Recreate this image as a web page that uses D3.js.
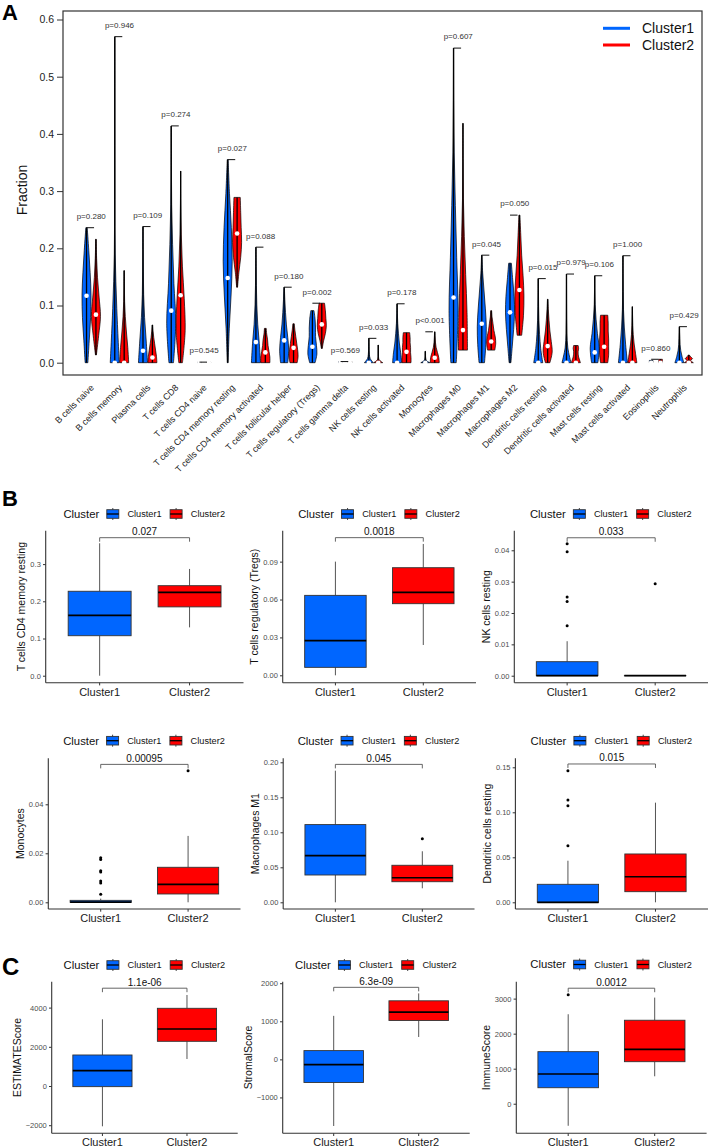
<!DOCTYPE html>
<html><head><meta charset="utf-8">
<script src="https://cdn.jsdelivr.net/npm/d3@7"></script>
<style>
body{margin:0;background:#fff}
svg{display:block}
text{font-family:"Liberation Sans",Arial,Helvetica,sans-serif}
</style>
</head><body>
<svg id="c" width="708" height="1147"></svg>
<script>
// ---------------- Panel A data ----------------
const cellTypes = ["B cells naive","B cells memory","Plasma cells","T cells CD8","T cells CD4 naive","T cells CD4 memory resting","T cells CD4 memory activated","T cells follicular helper","T cells regulatory (Tregs)","T cells gamma delta","NK cells resting","NK cells activated","Monocytes","Macrophages M0","Macrophages M1","Macrophages M2","Dendritic cells resting","Dendritic cells activated","Mast cells resting","Mast cells activated","Eosinophils","Neutrophils"];
const pLabelsA = ["p=0.280","p=0.946","p=0.109","p=0.274","p=0.545","p=0.027","p=0.088","p=0.180","p=0.002","p=0.569","p=0.033","p=0.178","p<0.001","p=0.607","p=0.045","p=0.050","p=0.015","p=0.979","p=0.106","p=1.000","p=0.860","p=0.429"];
const blueMin = [0,0,0,0,0,0,0,0,0,0,0,0,0,0,0,0,0,0,0,0,0,0];
const blueMax = [0.236,0.570,0.238,0.414,0.001,0.355,0.202,0.132,0.091,0.002,0.0426,0.103,0.020,0.550,0.188,0.174,0.147,0.155,0.152,0.187,0.004,0.063];
const blueMed = [0.117,0,0.021,0.091,0,0.148,0.036,0.039,0.028,0,0,0,0,0.114,0.068,0.088,0,0,0.018,0,0,0];
const redMin  = [0.0135,0,0,0,0,0.132,0,0,0.025,0,0,0,0,0.022,0.022,0.048,0,0,0,0,0,0];
const redMax  = [0.216,0.161,0.066,0.335,0.001,0.289,0.060,0.068,0.104,0.002,0.031,0.0525,0.054,0.4185,0.091,0.258,0.111,0.030,0.083,0.098,0.006,0.0135];
const redMed  = [0.084,0,0.009,0.118,0,0.226,0.018,0.026,0.067,0,0,0.019,0.0087,0.057,0.037,0.127,0.029,0,0.028,0,0,0];
// relative violin widths, from min (first) to max (last)
const blueShape = [
 [0.3,0.6,0.9,1,0.8,0.5,0.15],[1,0.45,0.1,0.04,0.02,0.02,0.01],[1,0.7,0.35,0.15,0.08,0.04,0.02],[0.5,1,0.6,0.3,0.1,0.04,0.01],
 [0.4,0.4,0.4,0.4,0.4,0.4,0.4],[0.1,0.35,0.75,1,0.8,0.4,0.1],[1,0.75,0.4,0.2,0.1,0.05,0.02],[0.8,1,0.8,0.5,0.3,0.15,0.05],
 [0.6,1,0.9,0.7,0.7,0.6,0.35],[0.4,0.4,0.4,0.4,0.4,0.4,0.4],[1,0.3,0.12,0.06,0.05,0.03,0.02],[1,0.8,0.5,0.3,0.15,0.06,0.02],
 [1,0.3,0.12,0.06,0.05,0.05,0.04],[0.6,1,0.7,0.4,0.15,0.05,0.02],[0.6,0.9,1,0.8,0.5,0.2,0.05],[0.2,0.5,0.8,1,0.9,0.6,0.3],
 [1,0.55,0.3,0.15,0.08,0.05,0.03],[1,0.3,0.1,0.05,0.03,0.02,0.01],[0.7,1,0.6,0.3,0.1,0.04,0.01],[1,0.6,0.3,0.12,0.05,0.02,0.01],
 [0.4,0.4,0.4,0.4,0.4,0.4,0.4],[1,0.6,0.3,0.15,0.1,0.05,0.02]];
const redShape = [
 [0.1,0.6,1,0.7,0.35,0.15,0.05],[1,0.8,0.5,0.25,0.1,0.05,0.02],[1,0.9,0.7,0.5,0.3,0.15,0.05],[0.4,1,0.8,0.4,0.15,0.05,0.02],
 [0.4,0.4,0.4,0.4,0.4,0.4,0.4],[0.1,0.4,0.8,1,0.9,0.8,0.7],[1,1,0.8,0.6,0.5,0.3,0.2],[0.8,1,0.9,0.7,0.5,0.3,0.15],
 [0.1,0.4,0.8,1,0.9,0.8,0.6],[0.4,0.4,0.4,0.4,0.4,0.4,0.4],[1,0.2,0.05,0.03,0.02,0.02,0.02],[1,1,0.9,0.9,0.8,0.8,0.7],
 [1,0.9,0.6,0.3,0.15,0.08,0.03],[1,0.9,0.6,0.3,0.1,0.03,0.01],[0.8,1,0.9,0.6,0.4,0.2,0.1],[0.5,0.9,1,0.8,0.5,0.3,0.1],
 [0.5,1,0.8,0.5,0.3,0.15,0.05],[1,0.8,0.6,0.5,0.5,0.6,0.5],[0.8,1,1,1,0.9,0.9,0.8],[1,0.7,0.4,0.2,0.1,0.05,0.02],
 [0.4,0.4,0.4,0.4,0.4,0.4,0.4],[1,0.6,0.4,0.8,0.6,0.3,0.1]];
const fractionTicks = [0,0.1,0.2,0.3,0.4,0.5,0.6];
const legendA = ["Cluster1","Cluster2"];

// ---------------- Panels B & C data ----------------
const clusters = ["Cluster1","Cluster2"];
const boxTitles = ["T cells CD4 memory resting","T cells regulatory (Tregs)","NK cells resting","Monocytes","Macrophages M1","Dendritic cells resting","ESTIMATEScore","StromalScore","ImmuneScore"];
const boxP = ["0.027","0.0018","0.033","0.00095","0.045","0.015","1.1e-06","6.3e-09","0.0012"];
// [lower whisker, q1, median, q3, upper whisker]
const cluster1Stats = [
 [0,0.1075,0.162,0.227,0.356],[0,0.0063,0.0274,0.0633,0.090],[0,0,0,0.00447,0.011],
 [0,0,0.0001,0.0008,0.0015],[0,0.039,0.0666,0.111,0.188],[0,0,0,0.020,0.0462],
 [-2056,-33,780,1582,3403],[-1750,-607,-140,230,1143],[-629,457,849,1486,2554]];
const cluster2Stats = [
 [0.130,0.185,0.224,0.242,0.287],[0.024,0.0567,0.0657,0.0852,0.104],[0,0,0,0,0],
 [0,0.0034,0.0073,0.0143,0.0271],[0.020,0.0294,0.0351,0.0529,0.0729],[0,0.0118,0.0284,0.0537,0.1107],
 [1378,2280,2908,3964,4643],[588,1021,1240,1538,1733],[783,1200,1554,2383,3029]];
const cluster1Outliers = [[],[],[0.0421,0.0395,0.0251,0.0237,0.0159],[0.0182,0.0175,0.0129,0.0124,0.0087,0.0079,0.0033],[],[0.1462,0.1137,0.1073,0.0629],[],[],[3114]];
const cluster2Outliers = [[],[],[0.0293],[0.0537],[0.0909],[],[],[],[]];
const bracketY = [0.371,0.109,0.044,0.0563,0.197,0.1537,4990,1892,3297];
const boxTicks = [[0,0.1,0.2,0.3],[0,0.03,0.06,0.09],[0,0.01,0.02,0.03,0.04],[0,0.02,0.04],[0,0.05,0.10,0.15,0.20],[0,0.05,0.10,0.15],[-2000,0,2000,4000],[-1000,0,1000,2000],[0,1000,2000,3000]];
const tickFormats = [".1f",".2f",".2f",".2f",".2f",".2f","d","d","d"];

// ---------------- layout (pixels) ----------------
// [left, right, top, bottom, domainLow, domainHigh, legendY]
const panelLayout = [
 [45.7,243.5,530.7,682.7,-0.0188,0.3898,514],
 [282.7,476,530.7,682.7,-0.00586,0.1145,514],
 [514.3,708,530.7,682.7,-0.00223,0.04625,514],
 [48.3,240.5,758.3,909,-0.00273,0.05878,740.7],
 [283.2,474.5,758.3,909,-0.00957,0.2057,740.7],
 [515.4,708,758.3,909,-0.00744,0.160,740.7],
 [51.7,237.7,981.7,1133.3,-2413,5321,965],
 [282.7,469.7,981.7,1133.3,-1942,2040,965],
 [516.3,706.6,981.7,1133.3,-844,3483,964.5]];

const BLUE = "#0066FF", RED = "#FF0000";
const svg = d3.select("#c");
svg.append("rect").attr("width",708).attr("height",1147).attr("fill","#fff");

// ================= Panel A =================
const xA = d3.scaleLinear().domain([-1.5, 66.4]).range([63, 702]);
const yA = d3.scaleLinear().domain([0, 0.6]).range([362.7, 19.5]);
const gA = svg.append("g");

const yAxisA = d3.axisLeft(yA).tickValues(fractionTicks).tickFormat(d3.format(".1f")).tickSize(6).tickPadding(3);
const ga = gA.append("g").attr("transform","translate(63,0)").call(yAxisA);
ga.select(".domain").remove();
ga.selectAll("line").attr("stroke","#333");
ga.selectAll("text").attr("font-size",10.5).attr("fill","#222").style("font-family",'"Liberation Sans",Arial,sans-serif');

gA.append("text").attr("transform","translate(27,190) rotate(-90)").attr("text-anchor","middle")
  .attr("font-size",14).attr("fill","#111").text("Fraction");

const vArea = d3.area().curve(d3.curveCatmullRom);
function drawViolin(u, vmin, vmax, vmed, shape, color) {
  const n = shape.length;
  const pts = shape.map((w,k)=>({v: vmin + (vmax - vmin)*k/(n-1), w: w}));
  vArea.y(d=>yA(d.v)).x0(d=>xA(u - 0.48*d.w)).x1(d=>xA(u + 0.48*d.w));
  gA.append("path").attr("d", vArea(pts)).attr("fill", color).attr("stroke","#000").attr("stroke-width",0.7);
  gA.append("line").attr("x1",xA(u)).attr("x2",xA(u)).attr("y1",yA(vmin)).attr("y2",yA(vmax))
    .attr("stroke","#000").attr("stroke-width",1.3);
  gA.append("circle").attr("cx",xA(u)).attr("cy",yA(vmed)).attr("r",2.3).attr("fill","#fff");
}
cellTypes.forEach((name,i)=>{
  const ub = 3*i+1, ur = 3*i+2, uc = 3*i+1.5;
  drawViolin(ub, blueMin[i], blueMax[i], blueMed[i], blueShape[i], BLUE);
  drawViolin(ur, redMin[i], redMax[i], redMed[i], redShape[i], RED);
  const mx = Math.max(blueMax[i], redMax[i]);
  gA.append("line").attr("x1",xA(ub)).attr("x2",xA(ur-0.2)).attr("y1",yA(mx)).attr("y2",yA(mx))
    .attr("stroke","#111").attr("stroke-width",1);
  gA.append("text").attr("x",xA(uc)).attr("y",yA(mx+0.02)).attr("dy","0.35em").attr("text-anchor","middle")
    .attr("font-size",8).attr("fill","#333").text(pLabelsA[i]);
  gA.append("text").attr("transform",`translate(${xA(uc)+1},386) rotate(-45)`).attr("text-anchor","end")
    .attr("dy","0.35em").attr("font-size",9).attr("fill","#222").text(name);
});
gA.append("rect").attr("x",63).attr("y",11).attr("width",639).attr("height",364)
  .attr("fill","none").attr("stroke","#333").attr("stroke-width",1.2);
// legend A
legendA.forEach((lab,k)=>{
  const yy = 28.3 + k*16.7;
  gA.append("line").attr("x1",603).attr("x2",630).attr("y1",yy).attr("y2",yy)
    .attr("stroke", k===0?BLUE:RED).attr("stroke-width",3);
  gA.append("text").attr("x",642).attr("y",yy).attr("dy","0.35em").attr("font-size",14).attr("fill","#111").text(lab);
});

// panel letters
svg.append("text").attr("x",2).attr("y",20).attr("font-size",22).attr("font-weight","bold").text("A");
svg.append("text").attr("x",2).attr("y",506).attr("font-size",22).attr("font-weight","bold").text("B");
svg.append("text").attr("x",2).attr("y",975).attr("font-size",24).attr("font-weight","bold").text("C");

// ================= Box panels =================
function boxPanel(i){
  const [L,R,T,B,lo,hi,ly] = panelLayout[i];
  const g = svg.append("g");
  const x = d3.scalePoint().domain(clusters).range([L,R]).padding(0.6);
  const y = d3.scaleLinear().domain([lo,hi]).range([B,T]);
  const bw = 0.7*x.step();
  const colors = [BLUE, RED];

  // axes
  const yAx = d3.axisLeft(y).tickValues(boxTicks[i]).tickFormat(d3.format(tickFormats[i])).tickSize(2.7).tickPadding(2.2).tickSizeOuter(0);
  const gy = g.append("g").attr("transform",`translate(${L},0)`).call(yAx);
  gy.select(".domain").remove();
  gy.selectAll("line").attr("stroke","#333");
  gy.selectAll("text").attr("font-size",7.5).attr("fill","#4d4d4d").style("font-family",'"Liberation Sans",Arial,sans-serif');
  let maxW = 0;
  gy.selectAll("text").each(function(){ maxW = Math.max(maxW, this.getComputedTextLength()); });
  g.append("line").attr("x1",L).attr("x2",L).attr("y1",T).attr("y2",B).attr("stroke","#333").attr("stroke-width",1.1);
  g.append("line").attr("x1",L).attr("x2",R).attr("y1",B).attr("y2",B).attr("stroke","#333").attr("stroke-width",1.1);
  clusters.forEach(c=>{
    g.append("line").attr("x1",x(c)).attr("x2",x(c)).attr("y1",B).attr("y2",B+2.7).attr("stroke","#333");
    g.append("text").attr("x",x(c)).attr("y",B+9).attr("dy","0.35em").attr("text-anchor","middle")
      .attr("font-size",11).attr("fill","#1a1a1a").text(c);
  });
  g.append("text").attr("transform",`translate(${L-2.7-2.2-maxW-2.75-2.2},${(T+B)/2}) rotate(-90)`)
    .attr("text-anchor","middle").attr("font-size",10.5).attr("fill","#111").text(boxTitles[i]);

  // boxes
  [cluster1Stats[i], cluster2Stats[i]].forEach((s,k)=>{
    const cx = x(clusters[k]);
    g.append("line").attr("x1",cx).attr("x2",cx).attr("y1",y(s[0])).attr("y2",y(s[1])).attr("stroke","#555").attr("stroke-width",1);
    g.append("line").attr("x1",cx).attr("x2",cx).attr("y1",y(s[3])).attr("y2",y(s[4])).attr("stroke","#555").attr("stroke-width",1);
    g.append("rect").attr("x",cx-bw/2).attr("width",bw).attr("y",y(s[3])).attr("height",Math.max(0.01,y(s[1])-y(s[3])))
      .attr("fill",colors[k]).attr("stroke","#333").attr("stroke-width",0.9);
    g.append("line").attr("x1",cx-bw/2).attr("x2",cx+bw/2).attr("y1",y(s[2])).attr("y2",y(s[2]))
      .attr("stroke","#000").attr("stroke-width",1.7);
    const outs = k===0 ? cluster1Outliers[i] : cluster2Outliers[i];
    outs.forEach(o=>{
      g.append("circle").attr("cx",cx).attr("cy",y(o)).attr("r",1.5).attr("fill","#000");
    });
  });

  // bracket
  const by = y(bracketY[i]);
  const x1 = x(clusters[0]), x2 = x(clusters[1]);
  g.append("path").attr("d",`M${x1},${by+4}V${by}H${x2}V${by+4}`).attr("fill","none").attr("stroke","#555").attr("stroke-width",0.9);
  g.append("text").attr("x",(x1+x2)/2).attr("y",by-2.5).attr("text-anchor","middle").attr("font-size",10).attr("fill","#111").text(boxP[i]);

  // legend
  const lx = (L+R)/2 - 81.2;
  g.append("text").attr("x",lx).attr("y",ly).attr("dy","0.35em").attr("font-size",11.3).attr("fill","#111").text("Cluster");
  [[43.4,64],[106.7,127.4]].forEach((o,k)=>{
    const kx = lx + o[0], kc = kx + 6;
    g.append("line").attr("x1",kc).attr("x2",kc).attr("y1",ly-6).attr("y2",ly+6).attr("stroke","#333").attr("stroke-width",0.9);
    g.append("rect").attr("x",kx).attr("y",ly-4.3).attr("width",12).attr("height",8.6).attr("fill",colors[k]).attr("stroke","#333").attr("stroke-width",0.9);
    g.append("line").attr("x1",kx).attr("x2",kx+12).attr("y1",ly).attr("y2",ly).attr("stroke","#000").attr("stroke-width",1.3);
    g.append("text").attr("x",lx+o[1]).attr("y",ly).attr("dy","0.35em").attr("font-size",9.2).attr("fill","#111").text(clusters[k]);
  });
}
boxTitles.forEach((t,i)=>boxPanel(i));
</script>
</body></html>
